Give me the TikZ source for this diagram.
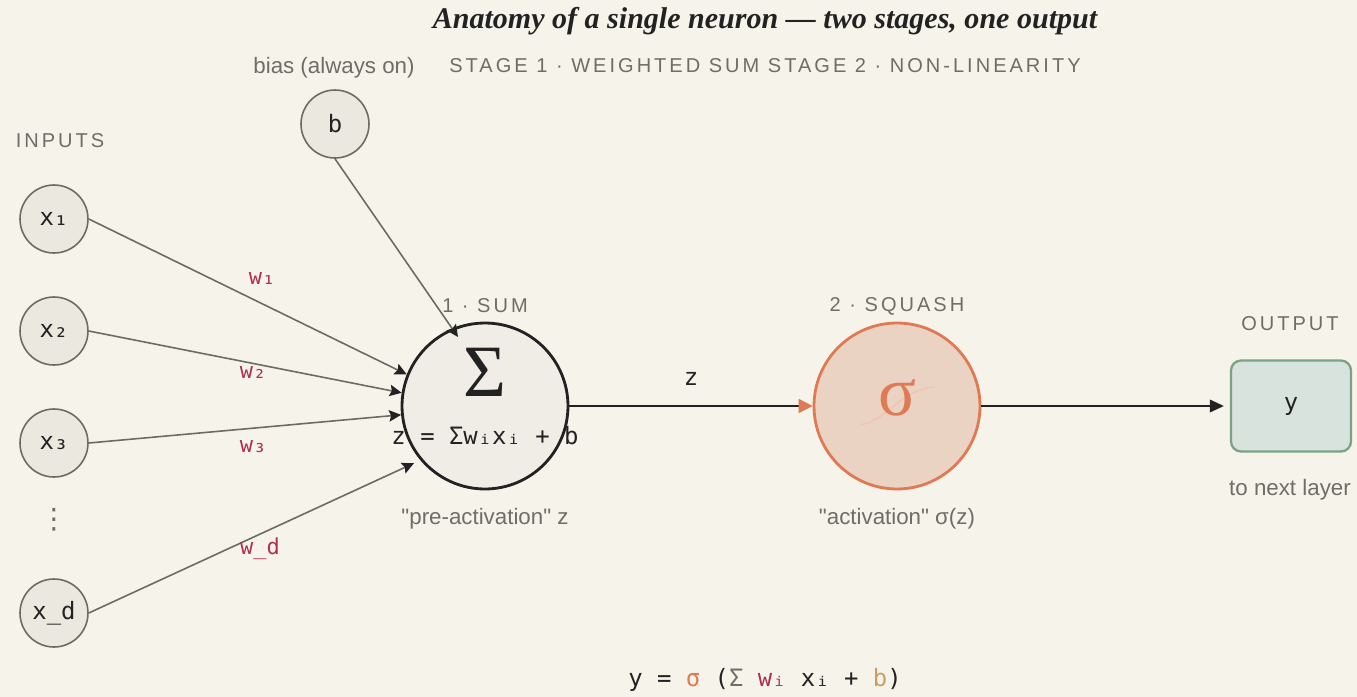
\documentclass[tikz,border=0pt]{standalone}
\usepackage{fontspec}
\setmainfont{Liberation Serif}
\setsansfont{Liberation Sans}[Ligatures=TeXOff]
\setmonofont{DejaVu Sans Mono}
\newfontfamily\capsfont[LetterSpace=15]{Liberation Sans}
\newfontfamily\symfont{DejaVu Sans}
\usetikzlibrary{arrows.meta, positioning}

\definecolor{paper}{HTML}{F6F3EA}
\definecolor{ink}{HTML}{222222}
\definecolor{muted}{HTML}{6E6E66}
\definecolor{edgegray}{HTML}{6B6B63}
\definecolor{inputfill}{HTML}{EAE8DF}
\definecolor{sumfill}{HTML}{EFEDE6}
\definecolor{weightred}{HTML}{B0304F}
\definecolor{squash}{HTML}{E07A55}
\definecolor{squashfill}{HTML}{EBD3C4}
\definecolor{outfill}{HTML}{D8E3DD}
\definecolor{outdraw}{HTML}{7AA385}
\definecolor{biasgold}{HTML}{C9A060}

\begin{document}
\begin{tikzpicture}[
    x=0.02cm, y=-0.02cm,
    >={Stealth[length=2.4mm, width=2mm]},
    inp/.style={
        circle,
        draw=edgegray,
        line width=0.9pt,
        fill=inputfill,
        minimum size=1.36cm,
        inner sep=0pt,
        text=ink,
        font=\ttfamily\fontsize{13.6}{16}\selectfont
    },
    stage/.style={
        circle,
        line width=1.6pt,
        minimum size=3.32cm,
        inner sep=0pt
    },
    caption/.style={
        text=muted,
        font=\sffamily\fontsize{12.7}{15}\selectfont
    },
    heading/.style={
        text=muted,
        font=\capsfont\fontsize{11.4}{13}\selectfont
    },
    weight/.style={
        text=weightred,
        font=\ttfamily\fontsize{12.5}{15}\selectfont
    },
    wire/.style={
        ->,
        line width=0.9pt,
        edgegray,
        >={Stealth[length=2.4mm, width=2.3mm, inset=0.4mm, color=ink]}
    },
    mono/.style={
        text=ink,
        font=\ttfamily\fontsize{13.6}{16}\selectfont
    }
]

\fill[paper] (0,0) rectangle (1357,697);
\useasboundingbox (0,0) rectangle (1357,697);

% =============== TITULO ===============

\node[font=\bfseries\itshape\fontsize{17.1}{20}\selectfont, text=ink] (title) at (765,21)
    {Anatomy of a single neuron — two stages, one output};
\node[heading] (stages) at (765,66) {STAGE 1 · WEIGHTED SUM STAGE 2 · NON-LINEARITY};

% =============== ENTRADAS ===============

\node[caption] (bias_lbl) at (334,68) {bias (always on)};
\node[inp] (bias) at (335,124) {b};

\node[heading] (inputs_lbl) at (60,141) {INPUTS};
\node[inp] (x1) at (54,219) {x₁};
\node[inp] (x2) at (54,331) {x₂};
\node[inp] (x3) at (54,443) {x₃};
\node[text=muted, font=\symfont\fontsize{16}{18}\selectfont] (vdots) at (54,520) {⋮};
\node[inp] (xd) at (54,613) {x\_d};

% =============== ESTAGIO 1: SOMA ===============

\node[stage, draw=ink, fill=sumfill] (sum) at (485,406) {};
\node[heading] (sum_lbl) at (485,306) {1 · SUM};
\node[text=ink, font=\fontsize{42}{44}\selectfont] (sigma_big) at (485,372) {Σ};
\node[mono] (z_eq) at (485,436) {z = Σwᵢxᵢ + b};
\node[caption] (pre_lbl) at (485,519) {"pre-activation" z};

% Ligações das entradas
\draw[wire] (x1.east) -- (sum.158);
\draw[wire] (x2.east) -- (sum.171);
\draw[wire] (x3.east) -- (sum.186);
\draw[wire, shorten >=4pt] (xd.east) -- (sum.220);
\draw[wire, shorten >=-6pt] (bias.south) -- (sum.113);

\node[weight] (w1) at (262,278) {w₁};
\node[weight] (w2) at (253,372) {w₂};
\node[weight] (w3) at (253,447) {w₃};
\node[weight] (wd) at (260,549) {w\_d};

% =============== ESTAGIO 2: SQUASH ===============

\node[stage, draw=squash, fill=squashfill] (squash) at (897,406) {};
\node[heading] (squash_lbl) at (897,306) {2 · SQUASH};
\draw[squash!45, line width=1pt, opacity=0.8]
    (860,425) .. controls (892,418) and (898,390) .. (935,387);
\node[text=squash, font=\fontsize{40}{42}\selectfont] (sigma_small) at (897,398) {σ};
\node[caption] (act_lbl) at (897,519) {"activation" σ(z)};

\draw[->, line width=1.1pt, ink, >={Triangle[length=2.8mm, width=2.8mm, color=squash]}]
    (sum) -- node[mono, above=0.28cm] (z_lbl) {z} (squash);

% =============== SAIDA ===============

\node[
    rectangle,
    rounded corners=0.2cm,
    draw=outdraw,
    line width=1.3pt,
    fill=outfill,
    minimum width=2.4cm,
    minimum height=1.82cm,
    text=ink,
    font=\ttfamily\fontsize{13.6}{16}\selectfont
] (y) at (1291,406) {y};
\node[heading] (out_lbl) at (1290,324) {OUTPUT};
\node[caption] (next_lbl) at (1290,490) {to next layer};

\draw[->, line width=1.1pt, ink, shorten >=0.12cm, >={Triangle[length=2.8mm, width=2.5mm]}]
    (squash) -- (y);

% =============== FORMULA ===============

\node[mono] (formula) at (765,680)
    {y = \textcolor{squash}{σ} (\textcolor{muted}{Σ} \textcolor{weightred}{wᵢ} xᵢ + \textcolor{biasgold}{b})};

\end{tikzpicture}
\end{document}
